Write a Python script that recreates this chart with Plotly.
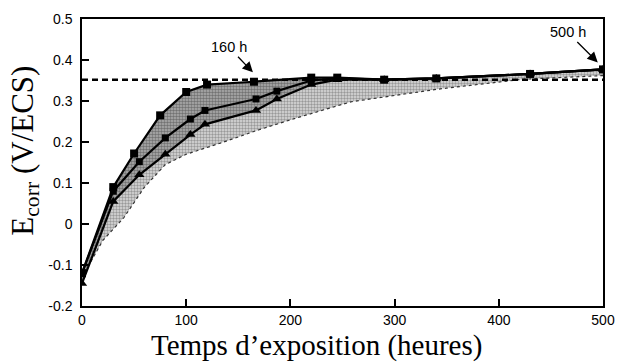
import plotly.graph_objects as go

# Series data (hours, V/ECS)
x_sq = [0, 30, 50, 75, 100, 120, 165, 220, 245, 290, 340, 430, 500]
y_sq = [-0.12, 0.09, 0.172, 0.265, 0.322, 0.34, 0.347, 0.357, 0.357, 0.352, 0.355, 0.366, 0.377]

x_mid = [0, 30, 55, 80, 104, 118, 167, 187, 220, 245, 290, 340, 430, 500]
y_mid = [-0.12, 0.08, 0.152, 0.21, 0.256, 0.277, 0.305, 0.324, 0.35, 0.355, 0.352, 0.355, 0.366, 0.377]

x_tri = [0, 30, 55, 80, 104, 118, 167, 187, 220, 245, 290, 340, 430, 500]
y_tri = [-0.145, 0.055, 0.12, 0.17, 0.218, 0.243, 0.277, 0.305, 0.34, 0.352, 0.352, 0.355, 0.366, 0.377]

# Lower envelope of the shaded band
x_low = [0, 20, 40, 60, 80, 100, 136, 170, 205, 258, 342, 423, 500]
y_low = [-0.13, -0.04, 0.015, 0.09, 0.145, 0.17, 0.2, 0.23, 0.258, 0.298, 0.329, 0.353, 0.362]

dash_level = 0.352
x_ticks = [0, 100, 200, 300, 400, 500]
y_ticks = [-0.2, -0.1, 0, 0.1, 0.2, 0.3, 0.4, 0.5]
y_ticktext = ["-0.2", "-0.1", "0", "0.1", "0.2", "0.3", "0.4", "0.5"]

fig = go.Figure()

# shaded band: lower envelope -> triangles (light), triangles -> squares (darker)
fig.add_trace(go.Scatter(x=x_low, y=y_low, mode="lines",
                         line=dict(color="#333", width=1.2, dash="dot"),
                         showlegend=False, hoverinfo="skip"))
fig.add_trace(go.Scatter(x=x_tri, y=y_tri, mode="lines", line=dict(width=0),
                         fill="tonexty", fillcolor="rgba(200,200,200,1)",
                         fillpattern=dict(shape=".", fgcolor="#555", bgcolor="#dcdcdc",
                                          size=3, solidity=0.5),
                         showlegend=False, hoverinfo="skip"))
fig.add_trace(go.Scatter(x=x_sq, y=y_sq, mode="lines", line=dict(width=0),
                         fill="tonexty", fillcolor="rgba(150,150,150,1)",
                         fillpattern=dict(shape=".", fgcolor="#333", bgcolor="#b0b0b0",
                                          size=3, solidity=0.55),
                         showlegend=False, hoverinfo="skip"))

# dashed reference line
fig.add_trace(go.Scatter(x=[0, 500], y=[dash_level, dash_level], mode="lines",
                         line=dict(color="black", width=2.5, dash="6px,4px"),
                         showlegend=False))

fig.add_trace(go.Scatter(x=x_tri, y=y_tri, mode="lines+markers",
                         line=dict(color="black", width=2.2),
                         marker=dict(symbol="triangle-up", size=9, color="black"),
                         showlegend=False))
fig.add_trace(go.Scatter(x=x_mid, y=y_mid, mode="lines+markers",
                         line=dict(color="black", width=2.2),
                         marker=dict(symbol="square", size=7, color="black"),
                         showlegend=False))
fig.add_trace(go.Scatter(x=x_sq, y=y_sq, mode="lines+markers",
                         line=dict(color="black", width=2.2),
                         marker=dict(symbol="square", size=8, color="black"),
                         showlegend=False))

ann_font = dict(family="Liberation Sans, Arial", size=14.5, color="black")
fig.add_annotation(x=164, y=0.37, text="160 h", showarrow=True, ax=-24, ay=-25,
                   font=ann_font, arrowhead=2, arrowsize=1.6, arrowwidth=1.3,
                   arrowcolor="black")
fig.add_annotation(x=495, y=0.394, text="500 h", showarrow=True, ax=-30, ay=-30,
                   font=ann_font, arrowhead=2, arrowsize=1.6, arrowwidth=1.3,
                   arrowcolor="black")

# axis titles (placed as paper annotations)
title_font = dict(family="Liberation Serif, Times New Roman", size=29, color="black")
fig.add_annotation(xref="paper", yref="paper", x=0.45, y=-0.2, xanchor="center",
                   yanchor="bottom", borderpad=0, text="Temps d’exposition (heures)",
                   showarrow=False, font=title_font)
fig.add_annotation(xref="paper", yref="paper", x=-0.11, y=0.54, xanchor="center",
                   yanchor="middle", textangle=-90, text="E<sub>corr</sub> (V/ECS)",
                   showarrow=False, font=dict(family="Liberation Serif, Times New Roman",
                                              size=31, color="black"))

tick_font = dict(family="Liberation Sans, Arial", size=14, color="black")
fig.update_xaxes(range=[0, 500], tickvals=x_ticks, ticks="inside", ticklen=7,
                 tickwidth=1.5, tickcolor="black", showline=True, linecolor="black",
                 linewidth=1.5, mirror=True, showgrid=False, zeroline=False,
                 tickfont=tick_font)
fig.update_yaxes(range=[-0.2, 0.5], tickvals=y_ticks, ticktext=y_ticktext, ticks="inside",
                 ticklen=7, tickwidth=1.5, tickcolor="black", showline=True,
                 linecolor="black", linewidth=1.5, mirror=True, showgrid=False,
                 zeroline=False, tickfont=tick_font, ticklabelstandoff=5)
fig.update_layout(width=626, height=363, margin=dict(l=82, r=11, t=13, b=57),
                  plot_bgcolor="white", paper_bgcolor="white")
fig.write_html("out.html")
